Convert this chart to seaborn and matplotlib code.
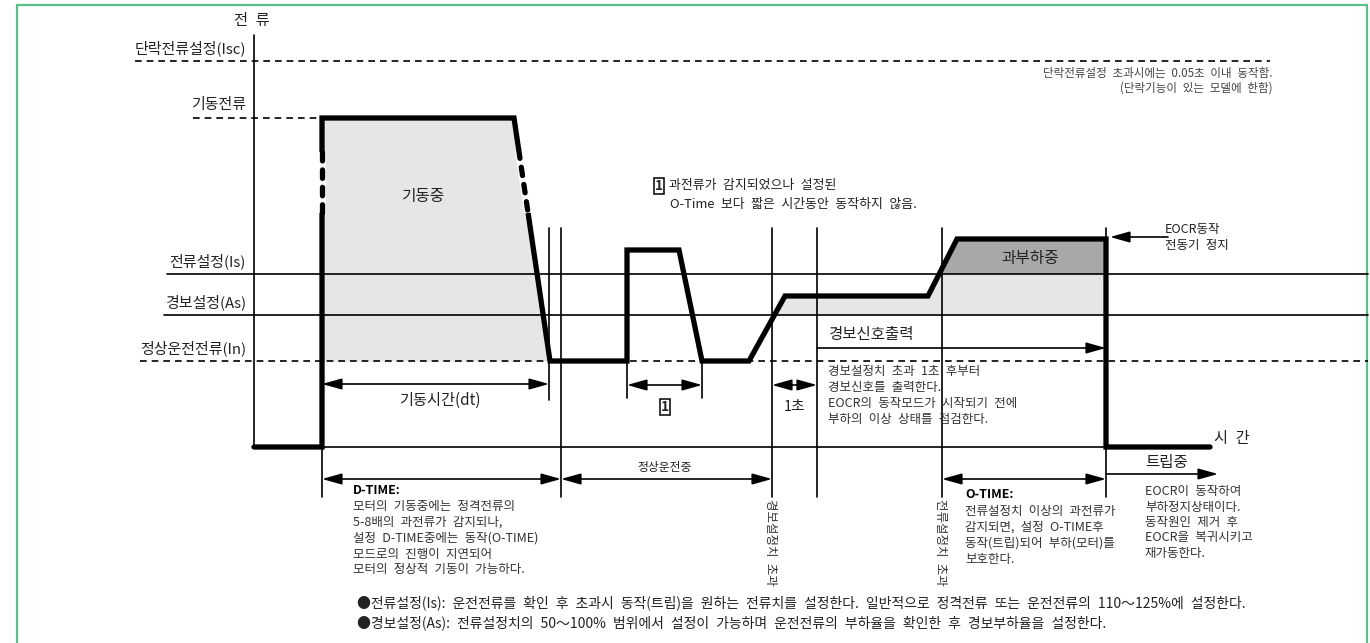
import matplotlib
matplotlib.use('Agg')
import matplotlib.pyplot as plt
from matplotlib.patches import Rectangle
import seaborn as sns
import numpy as np

sns.set_theme(style='white')
plt.rcParams['font.family'] = ['Noto Sans CJK KR', 'DejaVu Sans']

# 전류 레벨 (시간축 위 높이)
I_SC, I_START, I_S, A_S, I_N = 386, 329, 173, 132, 86
level_names = ['단락전류설정(Isc)', '기동전류', '전류설정(Is)', '경보설정(As)', '정상운전전류(In)']
level_values = [I_SC, I_START, I_S, A_S, I_N]

# 이벤트 시각
T_ON, T_DT, T_DTIME, T_ALARM, T_ALARM_1S, T_OTIME, T_TRIP = 322, 549, 561, 772, 817, 942, 1106

# 전류 파형
wave_t = [254, 322, 322, 514, 550, 627, 627, 679, 702, 749, 785, 928, 957, 1106, 1106, 1210]
wave_i = [0, 0, 329, 329, 86, 86, 197, 197, 86, 86, 151, 151, 208, 208, 0, 0]

LIGHT, DARK, GREEN = '#e6e6e6', '#a8a8a8', '#5bbf8a'
TXT = '#222222'
BODY = '#333333'


def Y(yp):
    '''픽셀 y -> 축 좌표'''
    return 447 - yp


def sp(s):
    '''한글 글꼴처럼 넓은 띄어쓰기'''
    return s.replace(' ', '\u2002')


def arrow(ax, x0, x1, y, style='<|-|>'):
    ax.annotate('', xy=(x1, y), xytext=(x0, y),
                arrowprops=dict(arrowstyle=f'{style},head_length=1.0,head_width=0.28',
                                color='black', lw=1.2, shrinkA=0, shrinkB=0,
                                mutation_scale=12))


def txt(ax, x, yp, s, size, ha='left', color=TXT, **kw):
    ax.text(x, Y(yp), sp(s), ha=ha, va='center', fontsize=size, color=color, **kw)


fig = plt.figure(figsize=(13.7, 6.43), dpi=100)
ax = fig.add_axes([0, 0, 1, 1])

# 회색 영역
ax.fill_between(wave_t[2:5], I_N, wave_i[2:5], color=LIGHT, lw=0, zorder=1)
at = np.array(wave_t[9:14], dtype=float)
ai = np.array(wave_i[9:14], dtype=float)
ax.fill_between(at, A_S, ai, where=ai > A_S, interpolate=True, color=LIGHT, lw=0, zorder=1)
ax.fill_between(at, I_S, ai, where=ai > I_S, interpolate=True, color=DARK, lw=0, zorder=1)

# 레벨선
line_start = [135, 193, 167, 164, 140]
line_end = [1270, T_ON, 1368, 1368, 1368]
dashed = [True, True, False, False, True]
for name, val, xs, xe, d in zip(level_names, level_values, line_start, line_end, dashed):
    ax.plot([xs, xe], [val, val], color='black', lw=1.2,
            linestyle=(0, (4, 3)) if d else '-', zorder=2)
    ax.text(246, val + 13, name, ha='right', va='center', fontsize=10.8, color=TXT)

# 축
ax.plot([254, 254], [0, Y(35)], color='black', lw=1.2, zorder=2)
ax.plot([254, 1200], [0, 0], color='black', lw=1.2, zorder=2)
txt(ax, 252, 20, '전 류', 11, ha='center')
txt(ax, 1232, 438, '시 간', 11, ha='center')

# 세로 보조선
vlines = [(T_ON, 447, 497), (T_DT, 228, 400), (T_DTIME, 228, 497), (627, 361, 398), (702, 361, 398),
          (T_ALARM, 228, 497), (T_ALARM_1S, 228, 497), (T_OTIME, 228, 497), (T_TRIP, 228, 497)]
for x, y0, y1 in vlines:
    ax.plot([x, x], [Y(y0), Y(y1)], color='black', lw=1.2, zorder=2)

# 파형
sns.lineplot(x=wave_t, y=wave_i, sort=False, estimator=None, ax=ax, color='black', lw=3.8,
             solid_capstyle='round', solid_joinstyle='miter', zorder=5)
# 끊김 표시 (점선)
fall = lambda c: 514 + 36 * (329 - c) / 243
for xs, ys in [([322, 322], [295, 234]), ([fall(297), fall(234)], [297, 234])]:
    ax.plot(xs, ys, color='white', lw=5.5, solid_capstyle='butt', zorder=6)
    ax.plot(xs, ys, color='black', lw=3.8, linestyle=(0, (1.6, 1.7)),
            dash_capstyle='round', zorder=7)

box1 = dict(boxstyle='square,pad=0.08', fc='white', ec='black', lw=1.1)

# 화살표
arrow(ax, T_ON, T_DT, Y(384))
txt(ax, 440, 400, '기동시간(dt)', 11, ha='center')
arrow(ax, 627, 702, Y(385))
ax.text(665, Y(407), '1', ha='center', va='center', fontsize=10, fontweight='bold', bbox=box1)
arrow(ax, T_ALARM, T_ALARM_1S, Y(385))
txt(ax, 795, 407, '1초', 10.5, ha='center')
arrow(ax, T_ALARM_1S, T_TRIP, Y(348), style='-|>')
txt(ax, 828, 335, '경보신호출력', 11.2)
arrow(ax, 1168, 1110, Y(237), style='-|>')
txt(ax, 1165, 229, 'EOCR동작', 9)
txt(ax, 1165, 245, '전동기 정지', 9)

arrow(ax, T_ON, T_DTIME, Y(479))
arrow(ax, T_DTIME, T_ALARM, Y(479))
txt(ax, 665, 468, '정상운전중', 8.5, ha='center')
arrow(ax, T_OTIME, T_TRIP, Y(479))
arrow(ax, T_TRIP, 1218, Y(474), style='-|>')
txt(ax, 1145, 462, '트립중', 11.2)

# 영역 라벨
txt(ax, 423, 197, '기동중', 11.3, ha='center')
txt(ax, 1030, 258, '과부하중', 11.3, ha='center')

# ① 주석
ax.text(659, Y(186), '1', ha='center', va='center', fontsize=10, fontweight='bold', bbox=box1)
txt(ax, 669, 186, '과전류가 감지되었으나 설정된', 9.3)
txt(ax, 670, 204, 'O-Time 보다 짧은 시간동안 동작하지 않음.', 9.3)

# 단락 주석
txt(ax, 1273, 74, '단락전류설정 초과시에는 0.05초 이내 동작함.', 8.3, ha='right', color='#444444')
txt(ax, 1273, 88, '(단락기능이 있는 모델에 한함)', 8.3, ha='right', color='#444444')

# 경보 설명
alarm_lines = ['경보설정치 초과 1초 후부터', '경보신호를 출력한다.',
               'EOCR의 동작모드가 시작되기 전에', '부하의 이상 상태를 점검한다.']
for k, s in enumerate(alarm_lines):
    txt(ax, 828, 372 + 16 * k, s, 9, color=BODY)


# 하단 설명 블록
def block(x, y0, title, lines, step=15.8):
    if title:
        ax.text(x, Y(y0), title, ha='left', va='center', fontsize=9, fontweight='bold', color='black')
        y0 += step + 1
    for k, s in enumerate(lines):
        txt(ax, x, y0 + step * k, s, 9, color=BODY)


block(353, 490, 'D-TIME:', ['모터의 기동중에는 정격전류의', '5-8배의 과전류가 감지되나,',
                             '설정 D-TIME중에는 동작(O-TIME)', '모드로의 진행이 지연되어',
                             '모터의 정상적 기동이 가능하다.'])
block(965, 495, 'O-TIME:', ['전류설정치 이상의 과전류가', '감지되면, 설정 O-TIME후',
                             '동작(트립)되어 부하(모터)를', '보호한다.'])
block(1145, 492, None, ['EOCR이 동작하여', '부하정지상태이다.', '동작원인 제거 후',
                        'EOCR을 복귀시키고', '재가동한다.'], step=15.3)

ax.text(771, Y(499), sp('경보설정치 초과'), rotation=270, ha='center', va='top', fontsize=9, color=BODY)
ax.text(941, Y(499), sp('전류설정치 초과'), rotation=270, ha='center', va='top', fontsize=9, color=BODY)

# 하단 각주
notes = ['●전류설정(Is): 운전전류를 확인 후 초과시 동작(트립)을 원하는 전류치를 설정한다. 일반적으로 정격전류 또는 운전전류의 110～125%에 설정한다.',
         '●경보설정(As): 전류설정치의 50～100% 범위에서 설정이 가능하며 운전전류의 부하율을 확인한 후 경보부하율을 설정한다.']
for k, s in enumerate(notes):
    txt(ax, 357, 603 + 20 * k, s, 10)

# 테두리
ax.add_patch(Rectangle((17, Y(650)), 1350, 645, fill=False, ec=GREEN, lw=1.6, clip_on=False))

ax.set_xlim(0, 1370)
ax.set_ylim(Y(643), Y(0))
ax.axis('off')
fig.savefig('out.png', dpi=100)
plt.close(fig)
